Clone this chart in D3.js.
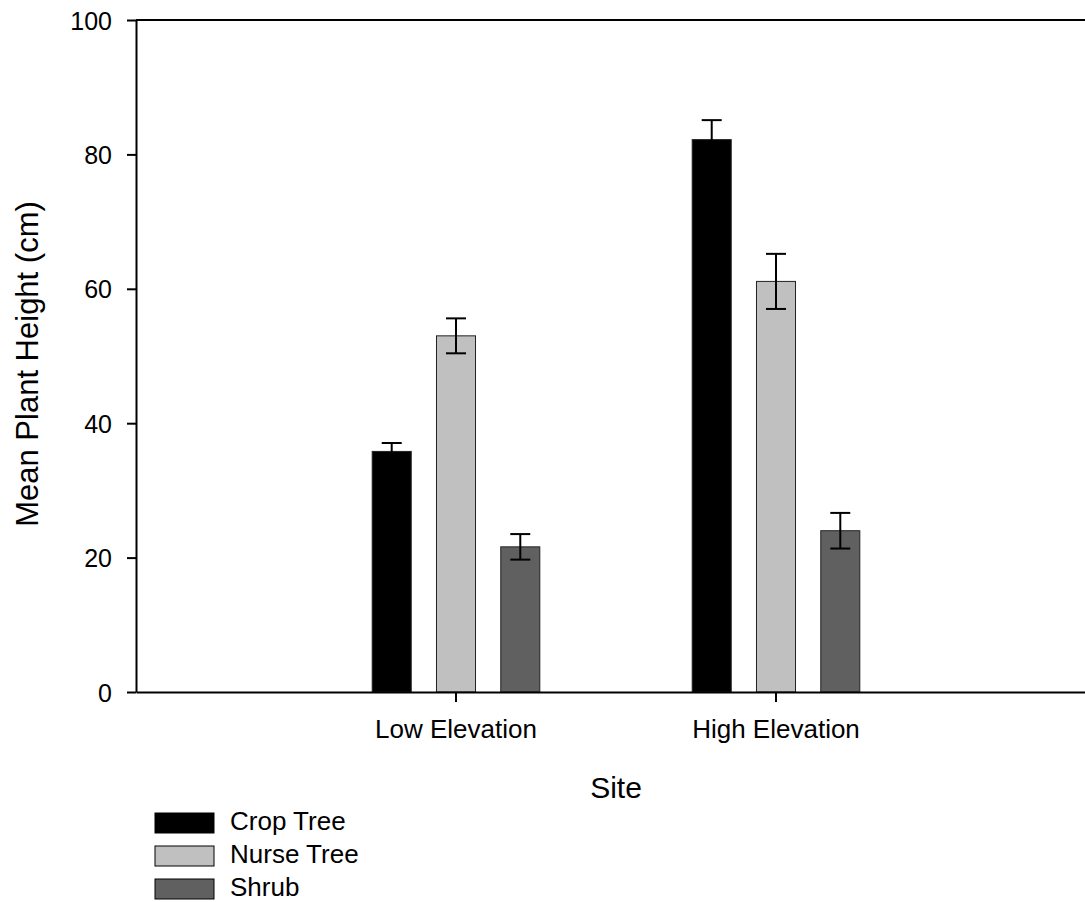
<!DOCTYPE html>
<html>
<head>
<meta charset="utf-8">
<script src="https://cdn.jsdelivr.net/npm/d3@7"></script>
<style>
body { margin: 0; background: #fff; }
text { font-family: "Liberation Sans", Arial, sans-serif; fill: #000; }
</style>
</head>
<body>
<div id="chart"></div>
<script>
// data
var sites = ["Low Elevation", "High Elevation"];
var groups = ["Crop Tree", "Nurse Tree", "Shrub"];
var colors = ["#000000", "#c0c0c0", "#606060"];
var meanLow = [35.8, 53.0, 21.6];
var meanHigh = [82.2, 61.1, 24.0];
var errLow = [1.25, 2.6, 1.9];
var errHigh = [2.9, 4.1, 2.65];
var yTicks = [0, 20, 40, 60, 80, 100];

var rows = [];
sites.forEach(function(s, i) {
    var m = i == 0 ? meanLow : meanHigh;
    var e = i == 0 ? errLow : errHigh;
    groups.forEach(function(g, j) {
        rows.push({site: s, group: g, mean: m[j], err: e[j]});
    });
});

var W = 1085, H = 902;
var svg = d3.select("#chart").append("svg")
    .attr("width", W).attr("height", H);

var x = d3.scaleBand().domain(sites).range([136, 1096]).paddingOuter(0.5).paddingInner(0);
var xSub = d3.scaleBand().domain(groups).range([-83.8, 83.8]).paddingInner(0.393).paddingOuter(0);
var y = d3.scaleLinear().domain([0, 100]).range([692, 20]);
var color = d3.scaleOrdinal().domain(groups).range(colors);

// bars
svg.selectAll("rect.bar").data(rows).enter().append("rect")
    .attr("class", "bar")
    .attr("x", function(d) { return x(d.site) + x.bandwidth() / 2 + xSub(d.group); })
    .attr("y", function(d) { return y(d.mean); })
    .attr("width", xSub.bandwidth())
    .attr("height", function(d) { return y(0) - y(d.mean); })
    .attr("fill", function(d) { return color(d.group); })
    .attr("stroke", "#222")
    .attr("stroke-width", 1);

// error bars
var cx = function(d) { return x(d.site) + x.bandwidth() / 2 + xSub(d.group) + xSub.bandwidth() / 2; };
var eb = svg.selectAll("g.err").data(rows).enter().append("g")
    .attr("class", "err")
    .attr("stroke", "#000").attr("stroke-width", 2);
eb.append("line")
    .attr("x1", cx).attr("x2", cx)
    .attr("y1", function(d) { return y(d.mean + d.err); })
    .attr("y2", function(d) { return y(d.mean - d.err); });
eb.append("line")
    .attr("x1", function(d) { return cx(d) - 10; }).attr("x2", function(d) { return cx(d) + 10; })
    .attr("y1", function(d) { return y(d.mean + d.err); })
    .attr("y2", function(d) { return y(d.mean + d.err); });
eb.append("line")
    .attr("x1", function(d) { return cx(d) - 10; }).attr("x2", function(d) { return cx(d) + 10; })
    .attr("y1", function(d) { return y(d.mean - d.err); })
    .attr("y2", function(d) { return y(d.mean - d.err); });

// y axis
var yAxis = svg.append("g")
    .attr("transform", "translate(136,0)")
    .call(d3.axisLeft(y).tickValues(yTicks).tickSize(9).tickPadding(15).tickSizeOuter(0));
yAxis.selectAll("text").style("font-size", "25px").attr("dy", "0.36em");

// x axis
var xAxis = svg.append("g")
    .attr("transform", "translate(0,692)")
    .call(d3.axisBottom(x).tickSize(10).tickPadding(18).tickSizeOuter(0));
xAxis.selectAll("text").style("font-size", "26px").attr("dy", "0.71em");

svg.selectAll(".domain, .tick line").attr("stroke", "#000").attr("stroke-width", 2);

// top frame line
svg.append("line")
    .attr("x1", x.range()[0]).attr("x2", x.range()[1])
    .attr("y1", y(100)).attr("y2", y(100))
    .attr("stroke", "#000").attr("stroke-width", 2);

// axis titles
svg.append("text")
    .attr("x", (x.range()[0] + x.range()[1]) / 2)
    .attr("y", 798)
    .attr("text-anchor", "middle")
    .style("font-size", "30px")
    .text("Site");

svg.append("text")
    .attr("transform", "translate(38," + ((y(0) + y(100)) / 2 + 8) + ") rotate(-90)")
    .attr("text-anchor", "middle")
    .style("font-size", "31px")
    .text("Mean Plant Height (cm)");

// legend
var legend = svg.selectAll("g.leg").data(groups).enter().append("g")
    .attr("class", "leg")
    .attr("transform", function(d, i) { return "translate(155," + (813 + i * 33) + ")"; });
legend.append("rect")
    .attr("width", 59).attr("height", 20)
    .attr("fill", function(d) { return color(d); })
    .attr("stroke", "#000").attr("stroke-width", 1);
legend.append("text")
    .attr("x", 75).attr("y", 17)
    .style("font-size", "26px")
    .text(function(d) { return d; });
</script>
</body>
</html>
